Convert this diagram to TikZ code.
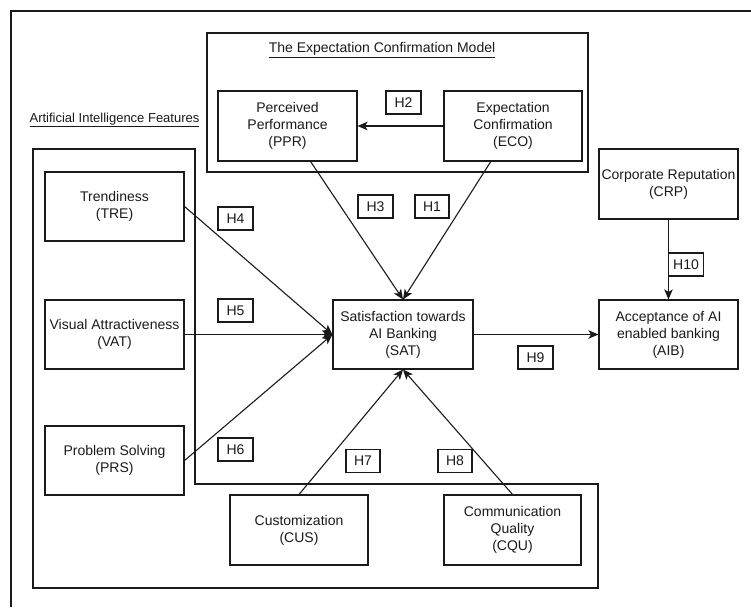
\documentclass[tikz,border=0pt]{standalone}
\usepackage{fontspec}
\setmainfont{Liberation Sans}
\usetikzlibrary{arrows.meta,calc}
\definecolor{ink}{HTML}{1A1A1A}
\begin{document}
\begin{tikzpicture}[x=1pt,y=-1pt,
  box/.style={draw=ink, text=ink, line width=1.1pt, minimum width=139pt, minimum height=70pt, inner sep=0pt, align=center, font=\fontsize{14}{17}\selectfont},
  hbox/.style={draw=ink, text=ink, line width=1.1pt, minimum width=35pt, minimum height=23pt, inner sep=0pt, font=\fontsize{14}{16}\selectfont},
  conn/.style={draw=ink, line width=1.1pt, -{Stealth[length=10pt,width=8.5pt,inset=2.5pt]}},
  frame/.style={draw=ink, line width=1.1pt},
  lbl/.style={inner sep=0pt, text=ink, font=\fontsize{14}{16}\selectfont}]
\useasboundingbox (0,0) rectangle (751,607);

% containers
\draw[frame] (11,607) -- (11,11) -- (751,11);
\draw[frame] (207,33) rectangle (588,172);
\draw[frame] (33,149) -- (195,149) -- (195,484) -- (598,484) -- (598,588) -- (33,588) -- cycle;
\node[lbl] (ECMt) at (382,50) {\underline{The Expectation Confirmation Model}};
\node[lbl, font=\fontsize{13}{15}\selectfont] (AIFt) at (114.5,120) {\underline{Artificial Intelligence Features}};

% construct boxes
\node[box] (PPR) at (287.5,126) {Perceived\\Performance\\(PPR)};
\node[box, minimum width=138pt] (ECO) at (513,126) {Expectation\\Confirmation\\(ECO)};
\node[box] (CRP) at (668.5,184) {Corporate Reputation\\(CRP)};
\node[box, minimum height=69pt] (TRE) at (114.5,206.5) {Trendiness\\(TRE)};
\node[box, minimum height=69pt] (VAT) at (114.5,334.5) {Visual Attractiveness\\(VAT)};
\node[box, minimum height=69pt] (PRS) at (114.5,460.5) {Problem Solving\\(PRS)};
\node[box, minimum width=140pt, minimum height=69pt] (SAT) at (403,334.5) {Satisfaction towards\\AI Banking\\(SAT)};
\node[box, minimum height=69pt] (AIB) at (668.5,334.5) {Acceptance of AI\\enabled banking\\(AIB)};
\node[box, minimum width=138pt] (CUS) at (299,530) {Customization\\(CUS)};
\node[box, minimum width=137pt] (CQU) at (512.5,530) {Communication\\Quality\\(CQU)};

% hypothesis labels
\node[hbox] (H2) at (403.5,102.5) {H2};
\node[hbox] (H3) at (375.5,206.5) {H3};
\node[hbox, minimum width=34pt] (H1) at (432,206.5) {H1};
\node[hbox] (H4) at (235.5,218.5) {H4};
\node[hbox] (H5) at (235.5,310.5) {H5};
\node[hbox] (H6) at (235.5,449.5) {H6};
\node[hbox, minimum width=34pt] (H7) at (363,461) {H7};
\node[hbox, minimum width=34pt] (H8) at (455,461) {H8};
\node[hbox] (H9) at (535.5,357.5) {H9};
\node[hbox] (H10) at (686,264.5) {H10};

% connectors
\draw[conn] (ECO.west) -- (PPR.east);
\draw[conn] (PPR.-57) -- (SAT.north);
\draw[conn] (ECO.-122) -- (SAT.north);
\draw[conn] (TRE.east) -- (SAT.west);
\draw[conn] (VAT.east) -- (SAT.west);
\draw[conn] (PRS.east) -- (SAT.west);
\draw[conn] (CUS.north) -- (SAT.south);
\draw[conn] (CQU.north) -- (SAT.south);
\draw[conn] (SAT.east) -- (AIB.west);
\draw[conn] (CRP.south) -- (AIB.north);
\end{tikzpicture}
\end{document}
